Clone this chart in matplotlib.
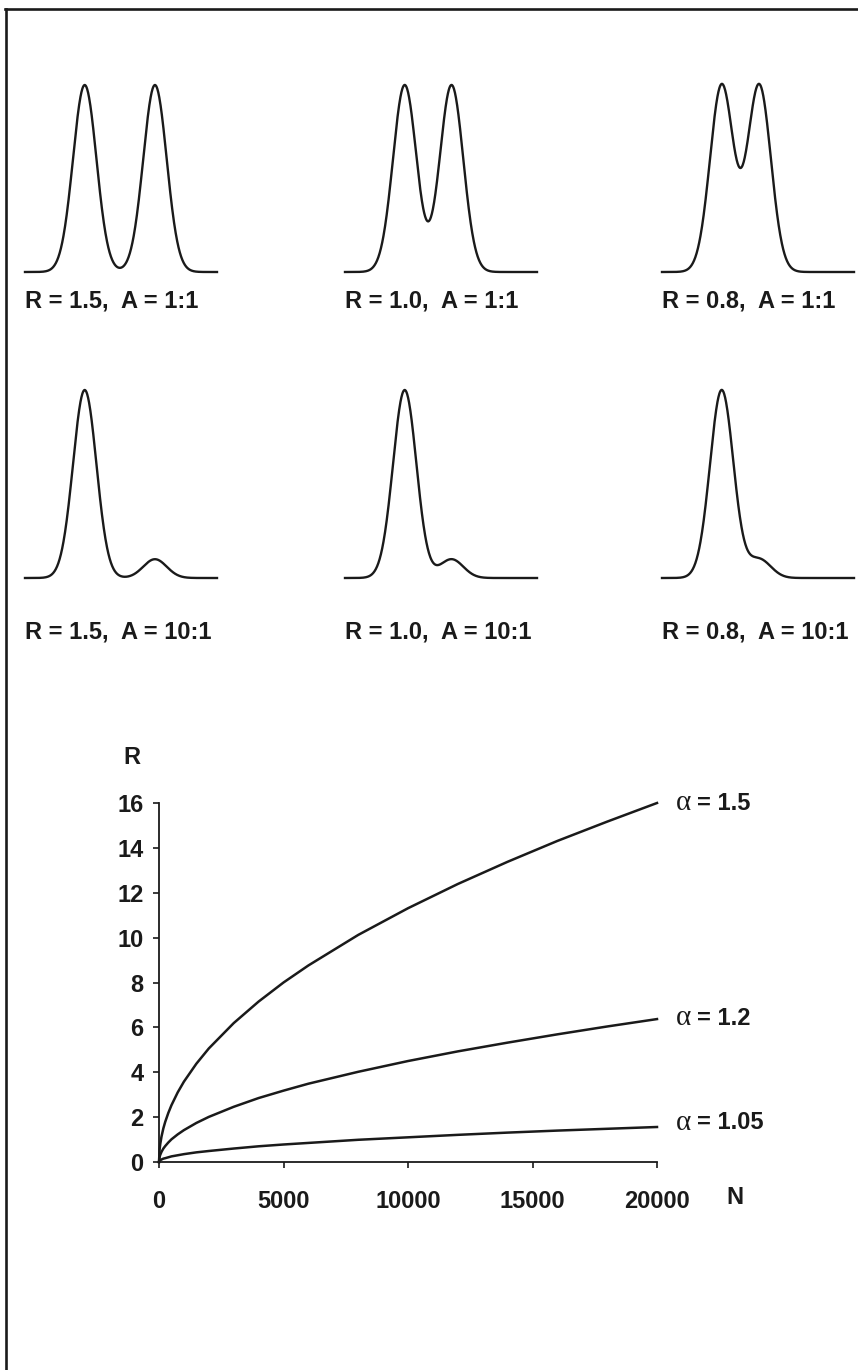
import matplotlib
matplotlib.use("Agg")
import matplotlib.pyplot as plt
from matplotlib.lines import Line2D
import numpy as np

plt.rcParams.update({"font.family": ["Liberation Sans", "DejaVu Sans"],
                     "font.weight": "bold", "font.size": 17})

# --- peak panels: resolution R and area ratio A ---
resolutions = [1.5, 1.0, 0.8]
res_labels = ["1.5", "1.0", "0.8"]
area_ratios = [1, 10]
ratio_labels = ["1:1", "10:1"]
peak_sigma = 1.0        # width of each peak (x units)
first_peak = 5.1        # position of the big peak inside a panel
panel_span = 16.4       # x range drawn for each panel

# --- R vs N curves ---
n_plates = [0, 25, 50, 100, 175, 250, 375, 500, 750, 1000, 1500, 2000, 3000,
            4000, 5000, 6000, 8000, 10000, 12000, 14000, 16000, 18000, 20000]
r_alpha_15 = [0, 0.57, 0.80, 1.13, 1.50, 1.79, 2.19, 2.53, 3.10, 3.58, 4.38,
              5.06, 6.19, 7.15, 8.0, 8.76, 10.12, 11.31, 12.39, 13.38, 14.31,
              15.17, 16.0]
r_alpha_12 = [0, 0.23, 0.32, 0.45, 0.60, 0.71, 0.87, 1.01, 1.23, 1.42, 1.74,
              2.01, 2.46, 2.85, 3.18, 3.49, 4.02, 4.5, 4.93, 5.32, 5.69, 6.04,
              6.37]
r_alpha_105 = [0, 0.06, 0.08, 0.11, 0.15, 0.17, 0.21, 0.25, 0.30, 0.35, 0.43,
               0.49, 0.60, 0.70, 0.78, 0.85, 0.99, 1.10, 1.21, 1.31, 1.40, 1.48,
               1.56]
alpha_labels = ["1.5", "1.2", "1.05"]
x_ticks = [0, 5000, 10000, 15000, 20000]
y_ticks = [0, 2, 4, 6, 8, 10, 12, 14, 16]

W, H = 858, 1370
INK = "#1a1a1a"
fig = plt.figure(figsize=(W / 100, H / 100), dpi=100)


def px_axes(x0, y_top, x1, y_bot):
    """axes placed by pixel box (origin top-left, like the picture)."""
    return fig.add_axes([x0 / W, 1 - y_bot / H, (x1 - x0) / W, (y_bot - y_top) / H])


def gauss(x, c):
    return np.exp(-0.5 * ((x - c) / peak_sigma) ** 2)


# frame: only top and left edges show in the scan
fig.add_artist(Line2D([5 / W, 1], [1 - 9 / H, 1 - 9 / H], color=INK, lw=1.9))
fig.add_artist(Line2D([6 / W, 6 / W], [0, 1 - 9 / H], color=INK, lw=1.9))

col_left = [25, 345, 662]
row_box = [(85, 272, 301), (390, 578, 632)]   # top, baseline, label y
x = np.linspace(0, panel_span, 600)
for ri, ratio in enumerate(area_ratios):
    top, base, lab_y = row_box[ri]
    for ci, R in enumerate(resolutions):
        left = col_left[ci]
        ax = px_axes(left, top, left + 192, base)
        y = gauss(x, first_peak) + gauss(x, first_peak + 4 * R * peak_sigma) / ratio
        ax.plot(x, y, color=INK, lw=1.7, clip_on=False)
        ax.set_xlim(0, panel_span)
        ax.set_ylim(0, 1)
        ax.axis("off")
        fig.text(left / W, 1 - lab_y / H,
                 f"R = {res_labels[ci]},  A = {ratio_labels[ri]}",
                 ha="left", va="center", fontsize=17, color=INK)

# main R vs N plot
ax = px_axes(159, 803, 657, 1162)
for vals in (r_alpha_15, r_alpha_12, r_alpha_105):
    ax.plot(n_plates, vals, color=INK, lw=1.8, clip_on=False)
ax.set_xlim(0, 20000)
ax.set_ylim(0, 16)
ax.set_xticks(x_ticks)
ax.set_yticks(y_ticks)
ax.spines[["top", "right"]].set_visible(False)
for s in ("left", "bottom"):
    ax.spines[s].set_linewidth(1.3)
    ax.spines[s].set_color(INK)
ax.tick_params(axis="y", direction="out", length=4, width=1.2, pad=7,
               labelsize=17, colors=INK)
ax.tick_params(axis="x", direction="out", length=4, width=1.2, pad=16,
               labelsize=17, colors=INK)

ends = [r_alpha_15[-1], r_alpha_12[-1], r_alpha_105[-1]]
dy = [0, 1, 4]
for lab, yv, d in zip(alpha_labels, ends, dy):
    ax.annotate("α", xy=(20000, yv), xytext=(19, d), textcoords="offset pixels",
                ha="left", va="center", fontsize=21, fontweight="normal",
                family=["Liberation Serif", "DejaVu Serif"], color=INK,
                annotation_clip=False)
    ax.annotate(f"= {lab}", xy=(20000, yv), xytext=(40, d), textcoords="offset pixels",
                ha="left", va="center", fontsize=17, color=INK,
                annotation_clip=False)

fig.text(132 / W, 1 - 758 / H, "R", ha="center", va="center", fontsize=17, color=INK)
fig.text(735 / W, 1 - 1198 / H, "N", ha="center", va="center", fontsize=17, color=INK)

fig.savefig("out.png", dpi=100)
